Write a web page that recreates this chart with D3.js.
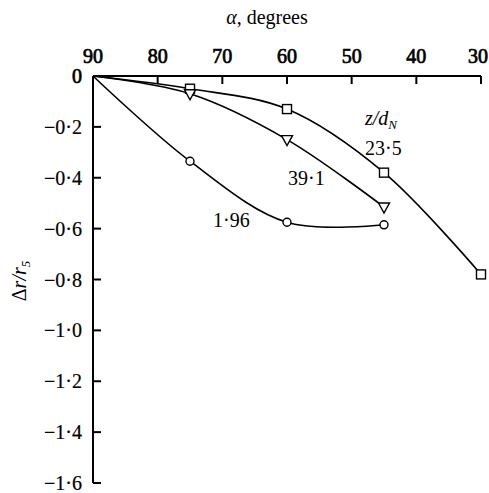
<!DOCTYPE html>
<html>
<head>
<meta charset="utf-8">
<script src="https://cdn.jsdelivr.net/npm/d3@7"></script>
<style>
  html, body { margin: 0; padding: 0; background: #fff; }
  svg { display: block; }
</style>
</head>
<body>
<div id="chart"></div>
<script>
// Angle values (degrees) at which displacement was measured
const alphaVals = [90, 75, 60, 45, 30];

// Δr/r5 for each z/dN series
const series23_5 = [0, -0.05, -0.13, -0.38, -0.78];
const series39_1 = [0, -0.07, -0.25, -0.515];
const series1_96 = [0, -0.335, -0.575, -0.585];

const xTicks = [90, 80, 70, 60, 50, 40, 30];
const yTicks = [0, -0.2, -0.4, -0.6, -0.8, -1.0, -1.2, -1.4, -1.6];

const SERIF = "Liberation Serif";

const W = 489, H = 493;
const svg = d3.select("#chart").append("svg").attr("width", W).attr("height", H)
  .attr("font-family", SERIF);

const x = d3.scaleLinear().domain([90, 30]).range([93, 481]);
const y = d3.scaleLinear().domain([0, -1.6]).range([76, 483]);

const fmtY = v => v === 0 ? "0" : "\u2212" + Math.abs(v).toFixed(1).replace(".", "\u00b7");

const txt = () => svg.append("text").attr("font-family", SERIF);

// Frame lines: top (α) axis and left (Δr/r5) axis
svg.append("line").attr("x1", x(90)).attr("x2", x(30)).attr("y1", y(0)).attr("y2", y(0))
  .attr("stroke", "#000").attr("stroke-width", 2);
svg.append("line").attr("x1", x(90)).attr("x2", x(90)).attr("y1", y(0)).attr("y2", y(-1.6))
  .attr("stroke", "#000").attr("stroke-width", 2);

// Inward ticks
svg.selectAll(".xtick").data(xTicks.filter(d => d !== 90)).join("line")
  .attr("class", "xtick")
  .attr("x1", d => x(d)).attr("x2", d => x(d))
  .attr("y1", y(0)).attr("y2", y(0) + 8)
  .attr("stroke", "#000").attr("stroke-width", 2);
svg.selectAll(".ytick").data(yTicks.filter(d => d !== 0)).join("line")
  .attr("class", "ytick")
  .attr("x1", x(90)).attr("x2", x(90) + 8)
  .attr("y1", d => y(d)).attr("y2", d => y(d))
  .attr("stroke", "#000").attr("stroke-width", 2);

// Tick labels (heavier strokes on the α figures)
svg.selectAll(".xlab").data(xTicks).join("text")
  .attr("class", "xlab")
  .attr("font-family", SERIF)
  .attr("x", d => d === 30 ? 488 : x(d)).attr("y", 63)
  .attr("text-anchor", d => d === 30 ? "end" : "middle")
  .attr("font-size", 20)
  .attr("stroke", "#000").attr("stroke-width", 0.7)
  .text(d => d);

svg.selectAll(".ylab").data(yTicks).join("text")
  .attr("class", "ylab")
  .attr("font-family", SERIF)
  .attr("x", 82).attr("y", d => y(d) + 7)
  .attr("text-anchor", "end")
  .attr("font-size", 20)
  .attr("stroke", "#000").attr("stroke-width", d => d === 0 ? 0.7 : 0.2)
  .text(fmtY);

// Axis titles
const xt = txt().attr("x", 267).attr("y", 24).attr("text-anchor", "middle").attr("font-size", 20);
xt.append("tspan").attr("font-style", "italic").text("\u03b1");
xt.append("tspan").text(", degrees");

const yt = txt().attr("transform", "translate(26,281) rotate(-90)")
  .attr("text-anchor", "middle").attr("font-size", 20);
yt.append("tspan").text("\u0394");
yt.append("tspan").attr("font-style", "italic").text("r/r");
yt.append("tspan").attr("font-size", 13).attr("font-style", "italic").attr("dy", 4).text("5");

// Smooth curves through the measured points
const line = d3.line().x(d => x(d[0])).y(d => y(d[1])).curve(d3.curveCatmullRom.alpha(0.5));
const pts = vals => vals.map((v, i) => [alphaVals[i], v]);

const data = [
  { vals: series23_5, marker: "square" },
  { vals: series39_1, marker: "triangle" },
  { vals: series1_96, marker: "circle" }
];

data.forEach(s => {
  svg.append("path").datum(pts(s.vals)).attr("d", line)
    .attr("fill", "none").attr("stroke", "#000").attr("stroke-width", 1.6);
});

// Open markers (none at the origin)
data.forEach(s => {
  const p = pts(s.vals).slice(1);
  if (s.marker === "square") {
    svg.selectAll(null).data(p).join("rect")
      .attr("x", d => x(d[0]) - 4.5).attr("y", d => y(d[1]) - 4.5)
      .attr("width", 9).attr("height", 9)
      .attr("fill", "#fff").attr("stroke", "#000").attr("stroke-width", 1.4);
  } else if (s.marker === "triangle") {
    svg.selectAll(null).data(p).join("path")
      .attr("d", d => { const cx = x(d[0]), cy = y(d[1]);
        return `M${cx - 5.5},${cy - 4}L${cx + 5.5},${cy - 4}L${cx},${cy + 6}Z`; })
      .attr("fill", "#fff").attr("stroke", "#000").attr("stroke-width", 1.4);
  } else {
    svg.selectAll(null).data(p).join("circle")
      .attr("cx", d => x(d[0])).attr("cy", d => y(d[1])).attr("r", 4)
      .attr("fill", "#fff").attr("stroke", "#000").attr("stroke-width", 1.4);
  }
});

// Series labels
const zl = txt().attr("x", 365).attr("y", 125).attr("font-size", 20).attr("font-style", "italic");
zl.append("tspan").text("z/d");
zl.append("tspan").attr("font-size", 13).attr("dy", 4).text("N");

txt().attr("x", 365).attr("y", 155).attr("font-size", 20).text("23\u00b75");
txt().attr("x", 288).attr("y", 185).attr("font-size", 20).text("39\u00b71");
txt().attr("x", 213).attr("y", 227).attr("font-size", 20).text("1\u00b796");
</script>
</body>
</html>
